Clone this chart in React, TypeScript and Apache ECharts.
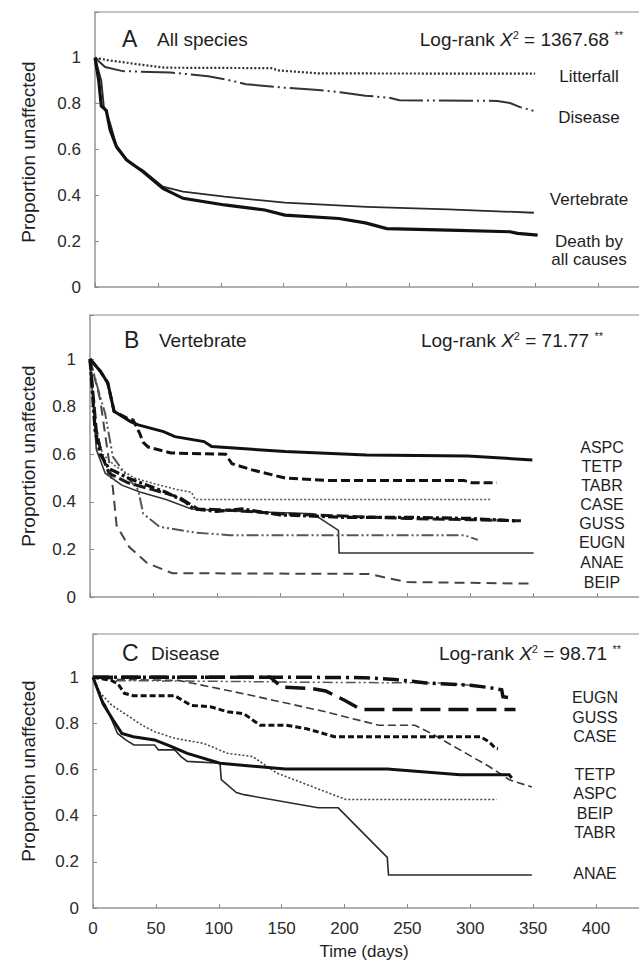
import React, { useEffect, useRef } from "react";
import * as echarts from "echarts";

// ---------- data: [day, proportion unaffected] ----------
// Panel A – all species
const aLitterfall = [[0,1],[10,0.99],[30,0.975],[55,0.957],[140,0.955],[146,0.945],[178,0.932],[350,0.931]];
const aDisease = [[0,1],[8,0.96],[22,0.942],[60,0.936],[90,0.92],[105,0.905],[120,0.885],[150,0.87],[175,0.861],[195,0.85],[215,0.835],[235,0.825],[242,0.815],[320,0.812],[330,0.803],[338,0.785],[345,0.775],[350,0.766]];
const aVertebrate = [[0,1],[5,0.9],[7,0.79],[12,0.715],[18,0.6],[28,0.54],[38,0.51],[54,0.438],[70,0.416],[103,0.394],[151,0.368],[216,0.35],[281,0.339],[349,0.324]];
const aDeath = [[0,1],[3,0.9],[5,0.79],[9,0.77],[12,0.686],[17,0.613],[25,0.555],[38,0.504],[54,0.43],[70,0.387],[103,0.358],[135,0.336],[151,0.314],[194,0.299],[215,0.28],[232,0.255],[281,0.248],[330,0.241],[336,0.234],[352,0.226]];

// Panel B – vertebrate
const bASPC = [[0,1],[8,0.95],[14,0.9],[19,0.78],[32,0.737],[38,0.723],[58,0.695],[67,0.674],[90,0.653],[96,0.632],[154,0.611],[218,0.597],[298,0.593],[349,0.576]];
const bTETP = [[0,1],[8,0.95],[14,0.9],[19,0.78],[30,0.75],[34,0.744],[39,0.69],[42,0.65],[46,0.63],[64,0.605],[107,0.6],[112,0.56],[128,0.534],[154,0.5],[186,0.49],[295,0.49],[301,0.48],[321,0.48]];
const bTABR = [[0,1],[5,0.7],[10,0.6],[20,0.55],[35,0.5],[55,0.47],[70,0.45],[80,0.44],[83,0.41],[316,0.41]];
const bCASE = [[0,1],[4,0.7],[8,0.6],[15,0.54],[30,0.5],[45,0.47],[60,0.44],[75,0.4],[82,0.37],[100,0.36],[120,0.37],[150,0.345],[200,0.335],[250,0.335],[300,0.33],[336,0.32]];
const bGUSS = [[0,1],[5,0.7],[9,0.6],[15,0.52],[30,0.48],[50,0.45],[70,0.42],[85,0.37],[110,0.365],[150,0.35],[200,0.34],[250,0.33],[300,0.325],[340,0.32]];
const bEUGN = [[0,1],[6,0.88],[12,0.77],[18,0.59],[30,0.5],[38,0.45],[42,0.35],[55,0.295],[84,0.27],[110,0.26],[295,0.26],[306,0.24]];
const bANAE = [[0,1],[5,0.62],[12,0.52],[25,0.47],[40,0.44],[60,0.41],[80,0.37],[120,0.36],[176,0.35],[196,0.28],[196.5,0.185],[350,0.185]];
const bBEIP = [[0,1],[8,0.83],[18,0.46],[21,0.3],[31,0.21],[45,0.143],[65,0.1],[220,0.097],[231,0.084],[250,0.063],[349,0.056]];

// Panel C – disease
const cEUGN = [[0,1],[150,1],[215,0.998],[240,0.99],[265,0.975],[300,0.965],[315,0.955],[325,0.945],[326,0.915],[330,0.912]];
const cGUSS = [[0,1],[141,1],[150,0.957],[175,0.95],[185,0.94],[200,0.9],[213,0.86],[336,0.86]];
const cCASE = [[0,1],[15,0.985],[20,0.97],[25,0.93],[32,0.92],[65,0.92],[71,0.9],[78,0.878],[94,0.871],[107,0.85],[120,0.842],[127,0.814],[133,0.792],[153,0.792],[169,0.778],[192,0.742],[308,0.742],[315,0.72],[320,0.692],[322,0.69]];
const cTETP = [[0,1],[8,0.885],[16,0.814],[23,0.756],[32,0.742],[49,0.728],[62,0.7],[75,0.67],[101,0.627],[153,0.602],[234,0.602],[292,0.577],[331,0.577],[333,0.563]];
const cASPC = [[0,1],[20,0.99],[68,0.986],[120,0.928],[185,0.85],[227,0.792],[256,0.792],[269,0.756],[315,0.613],[331,0.556],[349,0.524]];
const cBEIP = [[0,1],[6,0.93],[15,0.878],[23,0.85],[39,0.792],[49,0.764],[65,0.735],[88,0.713],[107,0.67],[127,0.656],[146,0.585],[201,0.47],[321,0.47]];
const cTABR = [[0,1],[18,0.985],[75,0.983],[140,0.98],[165,0.978],[275,0.975],[300,0.965]];
const cANAE = [[0,1],[6.5,0.907],[10,0.878],[19.5,0.756],[26,0.728],[32.5,0.706],[49,0.706],[52,0.685],[65,0.685],[70,0.656],[75,0.635],[101,0.627],[102,0.556],[114,0.5],[120,0.491],[179,0.434],[195,0.434],[234,0.219],[235,0.143],[349,0.143]];

// labels
const panelLetters = ["A", "B", "C"];
const panelTitles = ["All species", "Vertebrate", "Disease"];
const logRankValues = ["1367.68", "71.77", "98.71"];
const aLabels = ["Litterfall", "Disease", "Vertebrate", "Death by", "all causes"];
const bLabels = ["ASPC", "TETP", "TABR", "CASE", "GUSS", "EUGN", "ANAE", "BEIP"];
const cLabels = ["EUGN", "GUSS", "CASE", "TETP", "ASPC", "BEIP", "TABR", "ANAE"];
const xTickLabels = [0, 50, 100, 150, 200, 250, 300, 350, 400];
const yTickValues = [0, 0.2, 0.4, 0.6, 0.8, 1];
const yAxisTitle = "Proportion unaffected";
const xAxisTitle = "Time (days)";

const FONT = "'Liberation Sans', Arial, Helvetica, sans-serif";
const INK = "#1e1e1e";

function txt(x: number, y: number, text: string, size: number, align = "left", extra: any = {}) {
  return {
    type: "text",
    x,
    y,
    silent: true,
    style: { text, fontSize: size, fontFamily: FONT, fill: INK, align, verticalAlign: "middle", ...extra },
  };
}

function logRank(x: number, y: number, value: string) {
  return {
    type: "text",
    x,
    y,
    silent: true,
    style: {
      text: `{n|Log-rank }{i|X}{s|2}{n| = ${value} }{s|**}`,
      align: "right",
      verticalAlign: "middle",
      fill: INK,
      fontFamily: FONT,
      fontSize: 19,
      rich: {
        n: { fontSize: 19, fontFamily: FONT, fill: INK },
        i: { fontSize: 19, fontFamily: FONT, fontStyle: "italic", fill: INK },
        s: { fontSize: 11, fontFamily: FONT, verticalAlign: "top", fill: INK },
      },
    },
  };
}

export default function App() {
  const ref = useRef<HTMLDivElement>(null);
  useEffect(() => {
    if (!ref.current) return;
    const chart = echarts.init(ref.current, null, { renderer: "svg" });

    const grids = [
      { left: 95, top: 12, width: 628.75, height: 275 },
      { left: 90, top: 315, width: 633.75, height: 282 },
      { left: 93, top: 634, width: 628.75, height: 274 },
    ];
    const yMax = [1.2, 1.185, 1.187];

    const grid = grids.map((g) => ({ ...g, show: true, borderColor: "#b4b4b4", borderWidth: 1.5, backgroundColor: "transparent" }));
    const xAxis = grids.map((_, i) => ({
      type: "value",
      gridIndex: i,
      min: 0,
      max: 500,
      interval: 50,
      axisLine: { show: true, lineStyle: { color: "#a8a8a8", width: 1.5 } },
      axisTick: { show: true, inside: true, length: 4, lineStyle: { color: "#888" } },
      splitLine: { show: false },
      axisLabel: {
        show: i === 2,
        margin: 12,
        fontSize: 17,
        fontFamily: FONT,
        color: "#2a2a2a",
        formatter: (v: number) => (xTickLabels.indexOf(v) >= 0 ? String(v) : ""),
      },
    }));
    const yAxis = grids.map((_, i) => ({
      type: "value",
      gridIndex: i,
      min: 0,
      max: yMax[i],
      interval: 0.2,
      axisLine: { show: true, lineStyle: { color: "#a8a8a8", width: 1.5 } },
      axisTick: { show: true, inside: true, length: 4, lineStyle: { color: "#888" } },
      splitLine: { show: false },
      axisLabel: {
        margin: 14,
        fontSize: 17,
        fontFamily: FONT,
        color: "#2a2a2a",
        formatter: (v: number) => {
          const hit = yTickValues.find((t) => Math.abs(t - v) < 1e-6);
          return hit === undefined ? "" : String(hit);
        },
      },
    }));

    const mk = (name: string, data: number[][], gi: number, width: number, color: string, type: any, z = 2) => ({
      type: "line",
      name,
      data,
      xAxisIndex: gi,
      yAxisIndex: gi,
      showSymbol: false,
      symbol: "none",
      silent: true,
      z,
      lineStyle: { width, color, type, cap: "butt", join: "miter" },
    });

    const series = [
      // A
      mk("Litterfall", aLitterfall, 0, 2.2, "#333", [2, 2]),
      mk("Disease", aDisease, 0, 2, "#333", [34, 4, 2, 4, 2, 4]),
      mk("Vertebrate", aVertebrate, 0, 1.8, "#2a2a2a", "solid"),
      mk("Death by all causes", aDeath, 0, 3.2, "#111", "solid", 3),
      // B
      mk("BEIP", bBEIP, 1, 2, "#444", [10, 6]),
      mk("ANAE", bANAE, 1, 1.6, "#333", "solid"),
      mk("EUGN", bEUGN, 1, 2, "#555", [12, 3, 2, 3, 2, 3]),
      mk("TABR", bTABR, 1, 1.6, "#555", [2, 2]),
      mk("GUSS", bGUSS, 1, 3, "#1a1a1a", [12, 4]),
      mk("CASE", bCASE, 1, 3.2, "#111", [10, 3, 3, 3]),
      mk("TETP", bTETP, 1, 3, "#111", [9, 4]),
      mk("ASPC", bASPC, 1, 3, "#111", "solid", 3),
      // C
      mk("ANAE", cANAE, 2, 1.6, "#2a2a2a", "solid"),
      mk("BEIP", cBEIP, 2, 1.6, "#444", [2, 2]),
      mk("ASPC", cASPC, 2, 1.6, "#3a3a3a", [8, 4]),
      mk("TABR", cTABR, 2, 1.5, "#555", [10, 3, 2, 3, 2, 3]),
      mk("CASE", cCASE, 2, 3, "#111", [6, 3]),
      mk("GUSS", cGUSS, 2, 3.5, "#111", [20, 8]),
      mk("EUGN", cEUGN, 2, 3.5, "#111", [16, 5, 3, 5]),
      mk("TETP", cTETP, 2, 3, "#111", "solid", 3),
    ];

    const graphics: any[] = [];
    // panel titles
    const titleY = [39, 340, 653];
    const letterX = [122, 124, 122];
    const titleX = [157, 159, 151];
    const logX = [623, 603, 621];
    for (let i = 0; i < 3; i++) {
      graphics.push(txt(letterX[i], titleY[i], panelLetters[i], 23));
      graphics.push(txt(titleX[i], titleY[i], panelTitles[i], 19));
      graphics.push(logRank(logX[i], titleY[i], logRankValues[i]));
    }
    // y axis titles
    const yTitleY = [152, 456, 771];
    for (let i = 0; i < 3; i++) {
      graphics.push({
        type: "text",
        x: 28,
        y: yTitleY[i],
        rotation: Math.PI / 2,
        silent: true,
        style: { text: yAxisTitle, fontSize: 19, fontFamily: FONT, fill: INK, align: "center", verticalAlign: "middle" },
      });
    }
    // x axis title
    graphics.push(txt(364, 951, xAxisTitle, 17, "center"));

    // right labels panel A
    const aLabelY = [76, 117, 199, 241, 259];
    aLabels.forEach((l, k) => graphics.push(txt(589, aLabelY[k], l, 17, "center")));
    // right labels panel B
    const bLabelY = [447, 466, 485, 504, 523, 542, 562, 582];
    bLabels.forEach((l, k) => graphics.push(txt(602, bLabelY[k], l, 16, "center")));
    // right labels panel C
    const cLabelY = [697, 717, 736, 774, 793, 813, 832, 873];
    cLabels.forEach((l, k) => graphics.push(txt(595, cLabelY[k], l, 16, "center")));

    chart.setOption({
      animation: false,
      backgroundColor: "#fff",
      textStyle: { fontFamily: FONT },
      grid,
      xAxis,
      yAxis,
      series,
      graphic: graphics,
    });
    return () => chart.dispose();
  }, []);

  return (
    <div style={{ position: "absolute", left: 0, top: 0, width: 639, height: 960, overflow: "hidden", background: "#fff" }}>
      <div ref={ref} style={{ width: 760, height: 960 }} />
    </div>
  );
}
